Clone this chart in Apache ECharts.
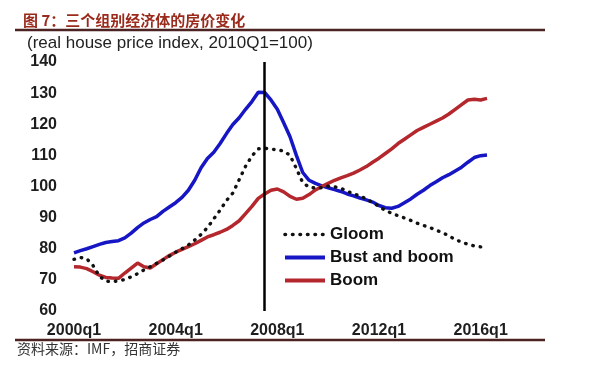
<!DOCTYPE html>
<html>
<head>
<meta charset="utf-8">
<script src="https://cdn.jsdelivr.net/npm/echarts@6/dist/echarts.min.js"></script>
<style>
html,body{margin:0;padding:0;background:#fff;}
#c{width:600px;height:365px;}
</style>
</head>
<body>
<div id="c"></div>
<script>
// ---- data ----
var startYear = 2000;
var nQuarters = 66; // 2000q1 .. 2016q2
var categories = [];
for (var k = 0; k < nQuarters; k++) {
  categories.push((startYear + Math.floor(k / 4)) + 'q' + (k % 4 + 1));
}
var tickLabels = ['2000q1', '2004q1', '2008q1', '2012q1', '2016q1'];
var yTicks = [60, 70, 80, 90, 100, 110, 120, 130, 140];
var crisisQuarter = '2007q3';

var gloom = [76.6, 77.2, 76.8, 74.6, 71.2, 69.6, 69.4, 69.7, 70.1, 71.0,
  72.0, 73.2, 74.2, 75.3, 76.4, 77.6, 78.9, 80.0, 81.2, 82.8,
  84.6, 86.8, 89.6, 92.4, 95.5, 97.9, 102.2, 106.5, 109.8, 112.1,
  112.3, 112.0, 111.8, 111.4, 110.0, 105.8, 101.2, 99.8, 99.5, 99.6,
  100.1, 99.9, 99.4, 98.5, 97.6, 97.0, 96.0, 94.9, 93.6, 92.3,
  91.4, 90.6, 89.9, 89.1, 88.2, 87.5, 86.8, 86.0, 85.1, 84.2,
  82.9, 82.2, 81.4, 80.9, 80.6, 80.6];

var bustAndBoom = [78.7, 79.4, 80.0, 80.7, 81.4, 82.0, 82.3, 82.6, 83.5, 85.0,
  86.8, 88.3, 89.4, 90.3, 92.0, 93.4, 94.8, 96.5, 98.8, 102.0,
  106.0, 109.0, 111.0, 113.8, 117.0, 119.9, 122.1, 124.8, 127.3, 130.3,
  130.2, 127.8, 124.8, 120.5, 116.0, 110.0, 104.5, 102.0, 101.0, 100.2,
  99.6, 99.0, 98.4, 97.6, 97.0, 96.3, 95.7, 95.0, 93.9, 93.2,
  93.0, 93.6, 94.8, 96.0, 97.5, 98.8, 100.3, 101.5, 102.8, 103.8,
  105.0, 106.2, 107.8, 109.3, 109.9, 110.1];

var boom = [74.2, 74.1, 73.6, 72.6, 71.5, 70.8, 70.6, 70.5, 72.2, 73.8,
  75.4, 74.2, 73.8, 75.2, 76.5, 77.8, 78.9, 79.8, 80.7, 81.6,
  82.7, 83.8, 84.5, 85.3, 86.2, 87.5, 89.0, 91.3, 93.6, 96.2,
  97.6, 98.8, 99.2, 98.3, 96.8, 95.9, 96.2, 97.4, 98.9, 100.0,
  101.0, 102.0, 102.8, 103.5, 104.3, 105.3, 106.4, 107.8, 109.1, 110.6,
  112.1, 113.8, 115.2, 116.6, 118.0, 119.0, 120.0, 121.0, 122.0, 123.3,
  124.8, 126.3, 127.8, 128.0, 127.8, 128.3];

var seriesNames = ['Gloom', 'Bust and boom', 'Boom'];
var titleText = '图 7：三个组别经济体的房价变化';
var subtitleText = '(real house price index, 2010Q1=100)';
var sourceText = '资料来源：IMF，招商证券';

// ---- chart ----
var chart = echarts.init(document.getElementById('c'), null, {renderer: 'canvas'});
var latin = "'Liberation Sans', Arial, sans-serif";
var cjk = "'Noto Sans CJK SC', sans-serif";

chart.setOption({
  animation: false,
  backgroundColor: '#ffffff',
  grid: {left: 74, right: 113, top: 62, bottom: 54, containLabel: false},
  xAxis: {
    type: 'category',
    data: categories,
    boundaryGap: false,
    axisLine: {show: false},
    axisTick: {show: false},
    splitLine: {show: false},
    axisLabel: {
      interval: 0,
      margin: 12,
      color: '#1e1e1e',
      fontFamily: latin,
      fontWeight: 'bold',
      fontSize: 16,
      formatter: function (v) { return tickLabels.indexOf(v) >= 0 ? v : ''; }
    }
  },
  yAxis: {
    type: 'value',
    min: yTicks[0],
    max: yTicks[yTicks.length - 1],
    interval: 10,
    axisLine: {show: false},
    axisTick: {show: false},
    splitLine: {show: false},
    axisLabel: {
      margin: 17,
      color: '#1e1e1e',
      fontFamily: latin,
      fontWeight: 'bold',
      fontSize: 16
    }
  },
  legend: {
    orient: 'vertical',
    left: 283,
    top: 226,
    padding: 0,
    itemWidth: 40,
    itemHeight: 14,
    itemGap: 6,
    data: [
      {name: seriesNames[0], lineStyle: {width: 3.6}},
      {name: seriesNames[1], lineStyle: {width: 4}},
      {name: seriesNames[2], lineStyle: {width: 4}}
    ],
    itemStyle: {opacity: 0},
    textStyle: {color: '#111', fontFamily: latin, fontWeight: 'bold', fontSize: 17}
  },
  series: [
    {
      name: seriesNames[0],
      type: 'line',
      data: gloom,
      symbol: 'none',
      z: 3,
      lineStyle: {color: '#111', width: 3.4, type: [0.5, 7], cap: 'round'},
      itemStyle: {color: '#111'},
      markLine: {
        silent: true,
        symbol: 'none',
        label: {show: false},
        lineStyle: {color: '#000', width: 2.5, type: 'solid'},
        data: [{xAxis: crisisQuarter}]
      }
    },
    {
      name: seriesNames[1],
      type: 'line',
      data: bustAndBoom,
      symbol: 'none',
      z: 2,
      lineStyle: {color: '#1616c4', width: 3.5},
      itemStyle: {color: '#1616c4'}
    },
    {
      name: seriesNames[2],
      type: 'line',
      data: boom,
      symbol: 'none',
      z: 2,
      lineStyle: {color: '#b3272d', width: 3.5},
      itemStyle: {color: '#b3272d'}
    }
  ],
  graphic: [
    {type: 'text', x: 23, y: 20, style: {text: titleText, fill: '#9a2a1c', font: 'bold 15px ' + cjk, textAlign: 'left', textVerticalAlign: 'middle'}},
    {type: 'line', shape: {x1: 15, y1: 30, x2: 545, y2: 30}, style: {stroke: '#4d2222', lineWidth: 2.5}},
    {type: 'text', x: 27, y: 43, style: {text: subtitleText, fill: '#222', font: '17px ' + latin, textAlign: 'left', textVerticalAlign: 'middle'}},
    {type: 'line', shape: {x1: 15, y1: 340, x2: 545, y2: 340}, style: {stroke: '#4d2222', lineWidth: 2.5}},
    {type: 'text', x: 17, y: 349, style: {text: sourceText, fill: '#333', font: '14px ' + cjk, textAlign: 'left', textVerticalAlign: 'middle'}}
  ]
});
</script>
</body>
</html>
